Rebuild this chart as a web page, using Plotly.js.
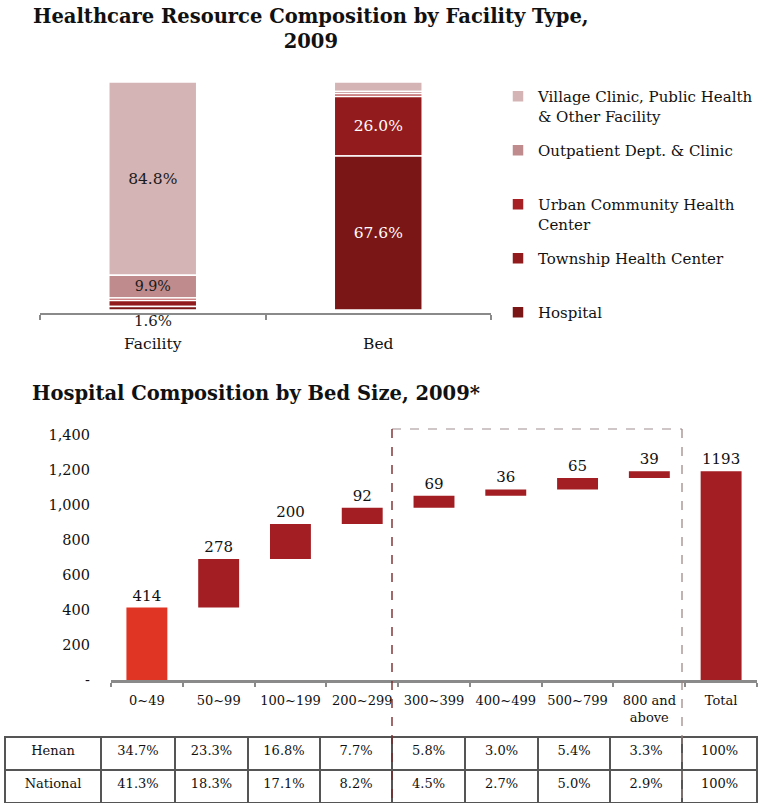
<!DOCTYPE html>
<html><head><meta charset="utf-8">
<script src="https://cdn.plot.ly/plotly-3.0.1.min.js"></script>
<style>html,body{margin:0;padding:0;background:#fff}#chart{width:763px;height:807px}</style>
</head><body><div id="chart"></div>
<script>
// ---- Top chart data (share, %) ----
const compCategories = ['Facility', 'Bed'];
const hospitalShare = [1.6, 67.6];
const townshipShare = [2.6, 26.0];
const urbanShare = [1.1, 1.2];
const outpatientShare = [9.9, 1.0];
const villageShare = [84.8, 4.2];
const compSeriesNames = ['Hospital', 'Township Health Center', 'Urban Community Health<br>Center', 'Outpatient Dept. & Clinic', 'Village Clinic, Public Health<br>& Other Facility'];

// ---- Bottom chart data (number of hospitals) ----
const bedSizeCategories = ['0~49', '50~99', '100~199', '200~299', '300~399', '400~499', '500~799', '800 and<br>above', 'Total'];
const hospitalCounts = [414, 278, 200, 92, 69, 36, 65, 39];
const hospitalTotal = 1193;
const yTickVals = [0, 200, 400, 600, 800, 1000, 1200, 1400];
const yTickText = ['-', '200', '400', '600', '800', '1,000', '1,200', '1,400'];

// ---- Table data ----
const tableRowLabels = ['Henan', 'National'];
const henanShares = ['34.7%', '23.3%', '16.8%', '7.7%', '5.8%', '3.0%', '5.4%', '3.3%', '100%'];
const nationalShares = ['41.3%', '18.3%', '17.1%', '8.2%', '4.5%', '2.7%', '5.0%', '2.9%', '100%'];

const W = 763, H = 807;
const px = v => v / W;
const py = v => 1 - v / H;
const FONT = 'DejaVu Serif, Georgia, serif';

// stacked top bars via explicit bases (bottom-up order)
const stackSeries = [hospitalShare, townshipShare, urbanShare, outpatientShare, villageShare];
const stackColors = ['#7B1616', '#921B1D', '#A72024', '#BF8B8C', '#D5B4B5'];
const stackTraces = [];
let running = compCategories.map(() => 0);
stackSeries.forEach((vals, i) => {
  const nm = compSeriesNames[i];
  stackTraces.push({
    type: 'bar', x: compCategories, y: vals, base: running.slice(),
    name: nm.indexOf('<br>') >= 0 ? nm : nm + '<br>\u00a0',
    legendgroup: 'g' + i,
    xaxis: 'x', yaxis: 'y', width: 0.39,
    marker: {color: stackColors[i], line: {color: '#ffffff', width: 1.5}},
    text: vals.map(v => v >= 5 ? v.toFixed(1) + '%' : ''),
    textposition: 'inside', insidetextanchor: 'middle',
    textfont: {family: FONT, size: 15.5, color: ['#1a1a1a', '#ffffff']},
    hoverinfo: 'skip'
  });
  running = running.map((r, k) => r + vals[k]);
});
// legend lists top segment first
const traces = stackTraces.slice().reverse();

// waterfall-style bottom bars
const wfValues = hospitalCounts.concat([hospitalTotal]);
let cum = 0;
const wfBase = hospitalCounts.map(v => { const b = cum; cum += v; return b; }).concat([0]);
const wfColors = wfValues.map((v, i) => i === 0 ? '#E03424' : '#A21E22');
traces.push({
  type: 'bar', x: bedSizeCategories, y: wfValues, base: wfBase,
  xaxis: 'x2', yaxis: 'y2', width: 0.57, showlegend: false,
  marker: {color: wfColors},
  text: wfValues.map(String), textposition: 'outside', cliponaxis: false,
  textfont: {family: FONT, size: 15, color: '#111'},
  hoverinfo: 'skip'
});

// table (header = Henan row, cells = National row)
traces.push({
  type: 'table',
  domain: {x: [px(5), px(757)], y: [py(804), py(737)]},
  columnwidth: [96, 74, 73, 72, 72, 73, 73, 72, 72, 75],
  header: {
    values: [tableRowLabels[0]].concat(henanShares),
    align: 'center', height: 33,
    line: {color: '#555', width: 2}, fill: {color: '#fff'},
    font: {family: FONT, size: 13, color: '#111'}
  },
  cells: {
    values: [[tableRowLabels[1]]].concat(nationalShares.map(v => [v])),
    align: 'center', height: 33,
    line: {color: '#555', width: 2}, fill: {color: '#fff'},
    font: {family: FONT, size: 13, color: '#111'}
  }
});

const layout = {
  width: W, height: H, margin: {l: 0, r: 0, t: 0, b: 0},
  paper_bgcolor: '#fff', plot_bgcolor: 'rgba(0,0,0,0)',
  font: {family: FONT, size: 14, color: '#111'},
  barmode: 'overlay',
  showlegend: true,
  legend: {
    x: px(498), y: py(80), xanchor: 'left', yanchor: 'top',
    traceorder: 'grouped', tracegroupgap: 12, valign: 'top',
    font: {family: FONT, size: 15, color: '#111'}, bgcolor: 'rgba(0,0,0,0)'
  },
  xaxis: {
    domain: [px(40), px(491)], anchor: 'y', type: 'category', range: [-0.5, 1.5],
    showline: true, linecolor: '#8a8a8a', linewidth: 2, ticks: 'outside', tickson: 'boundaries',
    ticklen: 5, tickcolor: '#8a8a8a', tickwidth: 2, showgrid: false, ticklabelstandoff: 15,
    tickfont: {family: FONT, size: 15.5, color: '#111'}, fixedrange: true
  },
  yaxis: {domain: [py(313), py(82)], anchor: 'x', range: [-1.3, 100], visible: false, fixedrange: true},
  xaxis2: {
    domain: [px(111), px(757)], anchor: 'y2', type: 'category', range: [-0.5, 8.5],
    showline: true, linecolor: '#8a8a8a', linewidth: 2.5, ticks: 'outside', tickson: 'boundaries',
    ticklen: 4, tickcolor: '#8a8a8a', tickwidth: 2, showgrid: false, ticklabelstandoff: 7,
    tickangle: 0,
    tickfont: {family: FONT, size: 13, color: '#111'}, fixedrange: true
  },
  yaxis2: {
    domain: [py(680), py(435)], anchor: 'x2', range: [0, 1400],
    tickvals: yTickVals, ticktext: yTickText, showgrid: false, zeroline: false, showline: false,
    ticks: '', ticklabelstandoff: 20, tickfont: {family: FONT, size: 14.5, color: '#111'}, fixedrange: true
  },
  annotations: [
    {xref: 'paper', yref: 'paper', x: px(311), y: py(3), xanchor: 'center', yanchor: 'top', showarrow: false,
     text: '<b>Healthcare Resource Composition by Facility Type,<br>2009</b>',
     font: {family: FONT, size: 19.5, color: '#111'}},
    {xref: 'paper', yref: 'paper', x: px(30), y: py(393), xanchor: 'left', yanchor: 'middle', showarrow: false,
     text: '<b>Hospital Composition by Bed Size, 2009*</b>',
     font: {family: FONT, size: 19.5, color: '#111'}},
    {xref: 'x', yref: 'y', x: compCategories[0], y: -1.3, yanchor: 'top', yshift: 3, showarrow: false,
     text: hospitalShare[0].toFixed(1) + '%', font: {family: FONT, size: 15, color: '#1a1a1a'}}
  ],
  shapes: [
    {type: 'line', xref: 'paper', yref: 'paper', x0: px(392), x1: px(682), y0: py(429), y1: py(429), line: {color: '#a09090', width: 1.2, dash: 'dash'}, layer: 'above'},
    {type: 'line', xref: 'paper', yref: 'paper', x0: px(682), x1: px(682), y0: py(429), y1: 0, line: {color: '#9a8080', width: 1.2, dash: 'dash'}, layer: 'above'},
    {type: 'line', xref: 'paper', yref: 'paper', x0: px(392), x1: px(392), y0: py(429), y1: 0, line: {color: '#7a2a2a', width: 1.4, dash: 'dash'}, layer: 'above'}
  ]
};

Plotly.newPlot('chart', traces, layout, {displayModeBar: false, staticPlot: true});
</script>
</body></html>
